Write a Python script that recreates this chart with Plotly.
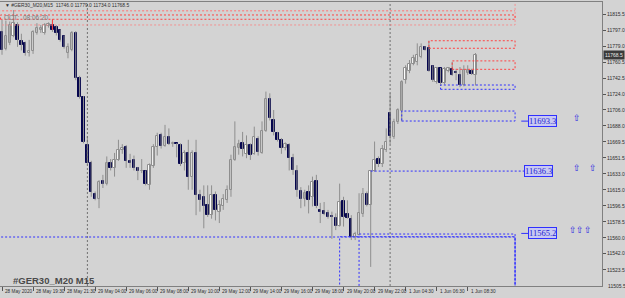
import plotly.graph_objects as go

# ---------------- data ----------------
opens = [11795,11776,11782,11790,11803,11785,11782,11771,11773,11794,11797,11794,11802,11803,11801,11797,11790,11771,11775,
         11794,11742,11721,11666,11646,11610,11605,11625,11622,11646,11640,11649,11660,11664,11648,11649,11640,11636,11636,11620,
         11642,11664,11677,11665,11675,11667,11668,11666,11645,11657,11629,11657,11609,11607,11598,11586,11609,11590,11596,11603,
         11615,11649,11663,11668,11656,11666,11656,11672.5,11657,11682,11719,11695,11680,11672,11663,11666,11651,11636,11614,11605,
         11612,11607,11625,11592,11591,11588,11585,11583,11574,11602.5,11587,11582,11561.4,11563,11587,11610,11598,11636.4,11649.7,
         11644.4,11660,11703,11675,11692,11705,11740,11750,11758.5,11761,11766,11777.5,11776.4,11756,11738,11753.5,11736.4,11750,
         11752.4,11749.7,11746,11734.5,11748,11751,11746]
highs = [11809,11808,11807,11820,11806,11793,11784,11786,11797,11805,11803,11805,11806,11809.5,11803,11798,11791,11782,11796,
         11796,11745,11722,11676,11648,11613,11626,11632,11653,11650,11657,11672,11667,11666,11656,11654,11641,11650,11637,11645,
         11667,11680,11680,11689,11685,11670,11668,11668,11660,11672,11660,11672,11615,11620,11620,11620,11613,11603,11610,11620,
         11655,11693,11672,11681,11677,11668,11687,11676,11693,11727,11725,11706,11681,11674,11669,11668,11656,11643,11618,11615,
         11620,11630,11632,11600,11601,11592,11590,11588,11622,11607,11603,11586,11567,11611,11617,11613,11637.5,11670,11653,
         11666,11685,11725,11696,11708,11740,11757,11763,11769,11782,11782,11779,11785,11757,11755,11754,11755,11755,
         11761,11753,11755,11757,11757,11753,11771]
lows = [11769,11774,11780,11789,11778,11774,11768,11767,11770,11792,11794,11792,11800,11795,11791,11784,11776,11765,11773,
        11740,11719,11668,11643,11607,11603,11594,11617,11620,11637,11630,11648,11656,11640,11640,11637,11626,11634,11620,11615,
        11640,11654,11662,11664,11666,11664,11652,11642,11637,11615,11615,11586,11590,11571,11584,11582,11580,11577,11592,11600,
        11607,11648,11655,11653,11651,11649,11655,11654,11656,11681,11694,11677,11670,11656,11660,11637,11632,11607,11594,11596,
        11588,11596,11594,11577,11586,11582,11559,11569,11573,11573,11582,11557.6,11557.6,11563,11584,11596,11527,11635.6,11641,
        11641,11658,11667,11673,11690,11693,11736,11748,11757,11757,11765,11773.7,11749.7,11738,11736,11733.4,11735,11749,
        11745,11740,11732,11733,11746,11746,11734]
closes = [11775,11790,11803,11805,11786,11780,11771,11773,11795,11799,11800,11803,11804,11797,11794,11786,11778,11778,11794,
          11742.5,11721,11670,11645,11613,11605,11624,11622,11645,11640,11649,11660,11663,11648,11646,11640,11636,11636.5,11622,11643,
          11664,11676,11665,11675,11667,11668,11667,11644,11657,11629,11657,11609,11603,11596,11586,11609,11592,11598,11605,11615,
          11649,11664,11667,11661,11666,11655,11675,11658,11682,11719,11696.5,11681,11672,11663,11667,11651,11637.5,11615,11604,11611,
          11603,11624,11596,11590,11587,11584,11583.5,11574,11601,11584,11583,11561.4,11564.5,11588,11610,11598,11636.4,11649,11644.4,
          11661,11669,11676,11692,11706,11738,11753.5,11759,11765,11769,11778,11774.5,11751,11740,11753.5,11736.4,11753,11753.5,
          11746,11748,11734.5,11751.6,11751.6,11747,11768.5]

time_tick_bars = [0, 8, 16, 24, 32, 40, 48, 56, 64, 72, 80, 88, 96, 104, 112, 120]
time_tick_labels = ["28 May 2020", "28 May 19:30", "28 May 21:30", "29 May 04:00", "29 May 06:00",
                    "29 May 08:00", "29 May 10:00", "29 May 12:00", "29 May 14:00", "29 May 16:00",
                    "29 May 18:00", "29 May 20:00", "29 May 22:00", "1 Jun 04:30", "1 Jun 06:30", "1 Jun 08:30"]
price_ticks = [11815.5, 11797.0, 11779.0, 11760.5, 11742.5, 11724.0, 11706.0, 11688.0, 11669.5,
               11651.5, 11633.0, 11615.0, 11596.5, 11578.5, 11560.0, 11542.0, 11523.5, 11505.5]
separator_bars = [22, 100]

# supply (red) zones
red_start = [-1, -0.4, 110, 116]
red_top = [11840, 11814.4, 11785, 11762]
red_bot = [11803, 11809.5, 11776.4, 11752.4]
# demand (blue) zones
blue_start = [113, 103, -1, 87, 92]
blue_top = [11734.5, 11704.8, 11561.1, 11561.4, 11564.5]
blue_bot = [11729.6, 11693.4, 11480, 11480, 11480]
zone_end = 132.2

levels = [11693.3, 11636.3, 11565.2]
level_text = ["11693.3", "11636.3", "11565.2"]
arrow_bars = [[148.1], [148.2, 152.2], [147.0, 149.0, 151.1]]

current_price = 11768.5
header = "▼ #GER30_M20,M15  11746.0 11779.0 11734.0 11768.5"

# ---------------- figure ----------------
BG = "#d3d3d3"
GRAYW = "#8e8e8e"
NAVY = "#06064e"
RED = "#ff4040"
PINK = "#f39090"
BLUE = "#3030ff"
DOT = "2px,2px"
TXT = "#2e2e2e"

n = len(opens)
idx = list(range(n))

wx, wy = [], []
for i in idx:
    wx += [i, i, None]
    wy += [lows[i], highs[i], None]

fig = go.Figure()
fig.add_trace(go.Scatter(x=wx, y=wy, mode="lines", line=dict(color=GRAYW, width=1),
                         hoverinfo="skip", showlegend=False))

bull = [i for i in idx if closes[i] >= opens[i]]
bear = [i for i in idx if closes[i] < opens[i]]
fig.add_trace(go.Bar(x=bull, base=[opens[i] for i in bull],
                     y=[max(closes[i] - opens[i], 0.6) for i in bull], width=0.62,
                     marker=dict(color="white", line=dict(color=GRAYW, width=1)),
                     showlegend=False, hoverinfo="skip"))
fig.add_trace(go.Bar(x=bear, base=[closes[i] for i in bear],
                     y=[max(opens[i] - closes[i], 0.6) for i in bear], width=0.62,
                     marker=dict(color=NAVY, line=dict(color=NAVY, width=1)),
                     showlegend=False, hoverinfo="skip"))

shapes = []
for b in separator_bars:
    shapes.append(dict(type="line", xref="x", yref="paper", x0=b, x1=b, y0=0, y1=1,
                       line=dict(color="#707070", width=1, dash=DOT)))
for k in range(len(red_start)):
    col = PINK if k == 0 else RED
    shapes.append(dict(type="rect", xref="x", yref="y", x0=red_start[k], x1=zone_end,
                       y0=red_bot[k], y1=red_top[k], line=dict(color=col, width=1, dash=DOT)))
shapes.append(dict(type="line", xref="x", yref="y", x0=-1, x1=zone_end, y0=11819.3, y1=11819.3,
                   line=dict(color=PINK, width=1.5, dash=DOT)))
shapes.append(dict(type="line", xref="x", yref="y", x0=13, x1=13, y0=11797.3, y1=11809.5,
                   line=dict(color=RED, width=1)))
for k in range(len(blue_start)):
    shapes.append(dict(type="rect", xref="x", yref="y", x0=blue_start[k], x1=zone_end,
                       y0=blue_bot[k], y1=blue_top[k], line=dict(color=BLUE, width=1, dash=DOT)))
shapes.append(dict(type="line", xref="x", yref="y", x0=95, x1=134.5, y0=levels[1], y1=levels[1],
                   line=dict(color=BLUE, width=1, dash=DOT)))
for lv in (levels[0], levels[2]):
    shapes.append(dict(type="line", xref="x", yref="y", x0=133.8, x1=135.6, y0=lv, y1=lv,
                       line=dict(color=BLUE, width=1)))

annotations = []
for b, t in zip(time_tick_bars, time_tick_labels):
    annotations.append(dict(x=b, y=-0.021, xref="x", yref="paper", text=t, showarrow=False,
                            xanchor="left", yanchor="middle", xshift=1,
                            font=dict(family="Liberation Sans", size=4.7, color=TXT)))
annotations.append(dict(x=1, y=price_ticks[-1], xref="paper", yref="y", text="11505.5", showarrow=False,
                        xanchor="left", yanchor="middle", xshift=4,
                        font=dict(family="Liberation Sans", size=5, color=TXT)))
annotations.append(dict(x=1, y=current_price, xref="paper", yref="y", text=str(current_price),
                        showarrow=False, xanchor="left", yanchor="middle", xshift=1,
                        bgcolor="#3a3a3a", borderpad=1,
                        font=dict(family="Liberation Sans", size=5, color="#e8e8e8")))
annotations.append(dict(x=0, y=0.989, xref="paper", yref="paper", text=header, showarrow=False,
                        xanchor="left", yanchor="middle", xshift=3,
                        font=dict(family="Liberation Sans", size=4.9, color=TXT)))
annotations.append(dict(x=0, y=11812, xref="paper", yref="y", text="ОСТ:  08:06:20", showarrow=False,
                        xanchor="left", yanchor="middle", xshift=2,
                        font=dict(family="Liberation Sans", size=6.5, color="#7c7c7c")))
annotations.append(dict(x=0, y=0.018, xref="paper", yref="paper", text="<b>#GER30_M20 M15</b>",
                        showarrow=False, xanchor="left", yanchor="middle", xshift=11,
                        font=dict(family="Liberation Sans", size=9.5, color="#4a4a4a")))
for k, lv in enumerate(levels):
    annotations.append(dict(x=135.6 if k != 1 else 134.5, y=lv, xref="x", yref="y", text=level_text[k],
                            showarrow=False, xanchor="left", yanchor="middle",
                            bgcolor="#c9c9f2", bordercolor=BLUE, borderwidth=1, borderpad=0,
                            font=dict(family="Liberation Serif", size=8.5, color="#1c1cd0")))
    for ab in arrow_bars[k]:
        annotations.append(dict(x=ab, y=lv, xref="x", yref="y", text="⇧", showarrow=False,
                                xanchor="center", yanchor="middle", yshift=3,
                                font=dict(family="DejaVu Sans", size=9, color="#2424e0")))

fig.update_layout(
    width=625, height=298,
    margin=dict(l=0, r=23, t=2, b=12),
    paper_bgcolor=BG, plot_bgcolor=BG,
    barmode="overlay", bargap=0,
    showlegend=False, hovermode=False,
    shapes=shapes, annotations=annotations,
    xaxis=dict(range=[-0.515, 154.6], showgrid=False, zeroline=False,
               tickmode="array", tickvals=time_tick_bars, showticklabels=False,
               ticks="outside", ticklen=4, tickcolor="#555555",
               showline=True, linecolor="#808080", linewidth=1, mirror=True),
    yaxis=dict(range=[11505.2, 11829.2], side="right", showgrid=False, zeroline=False,
               tickmode="array", tickvals=price_ticks[:-1],
               ticktext=["%.1f" % p for p in price_ticks[:-1]],
               ticks="outside", ticklen=3, tickcolor="#555555",
               tickfont=dict(family="Liberation Sans", size=5, color=TXT),
               showline=True, linecolor="#808080", linewidth=1, mirror=True),
)

fig.write_html("out.html")
